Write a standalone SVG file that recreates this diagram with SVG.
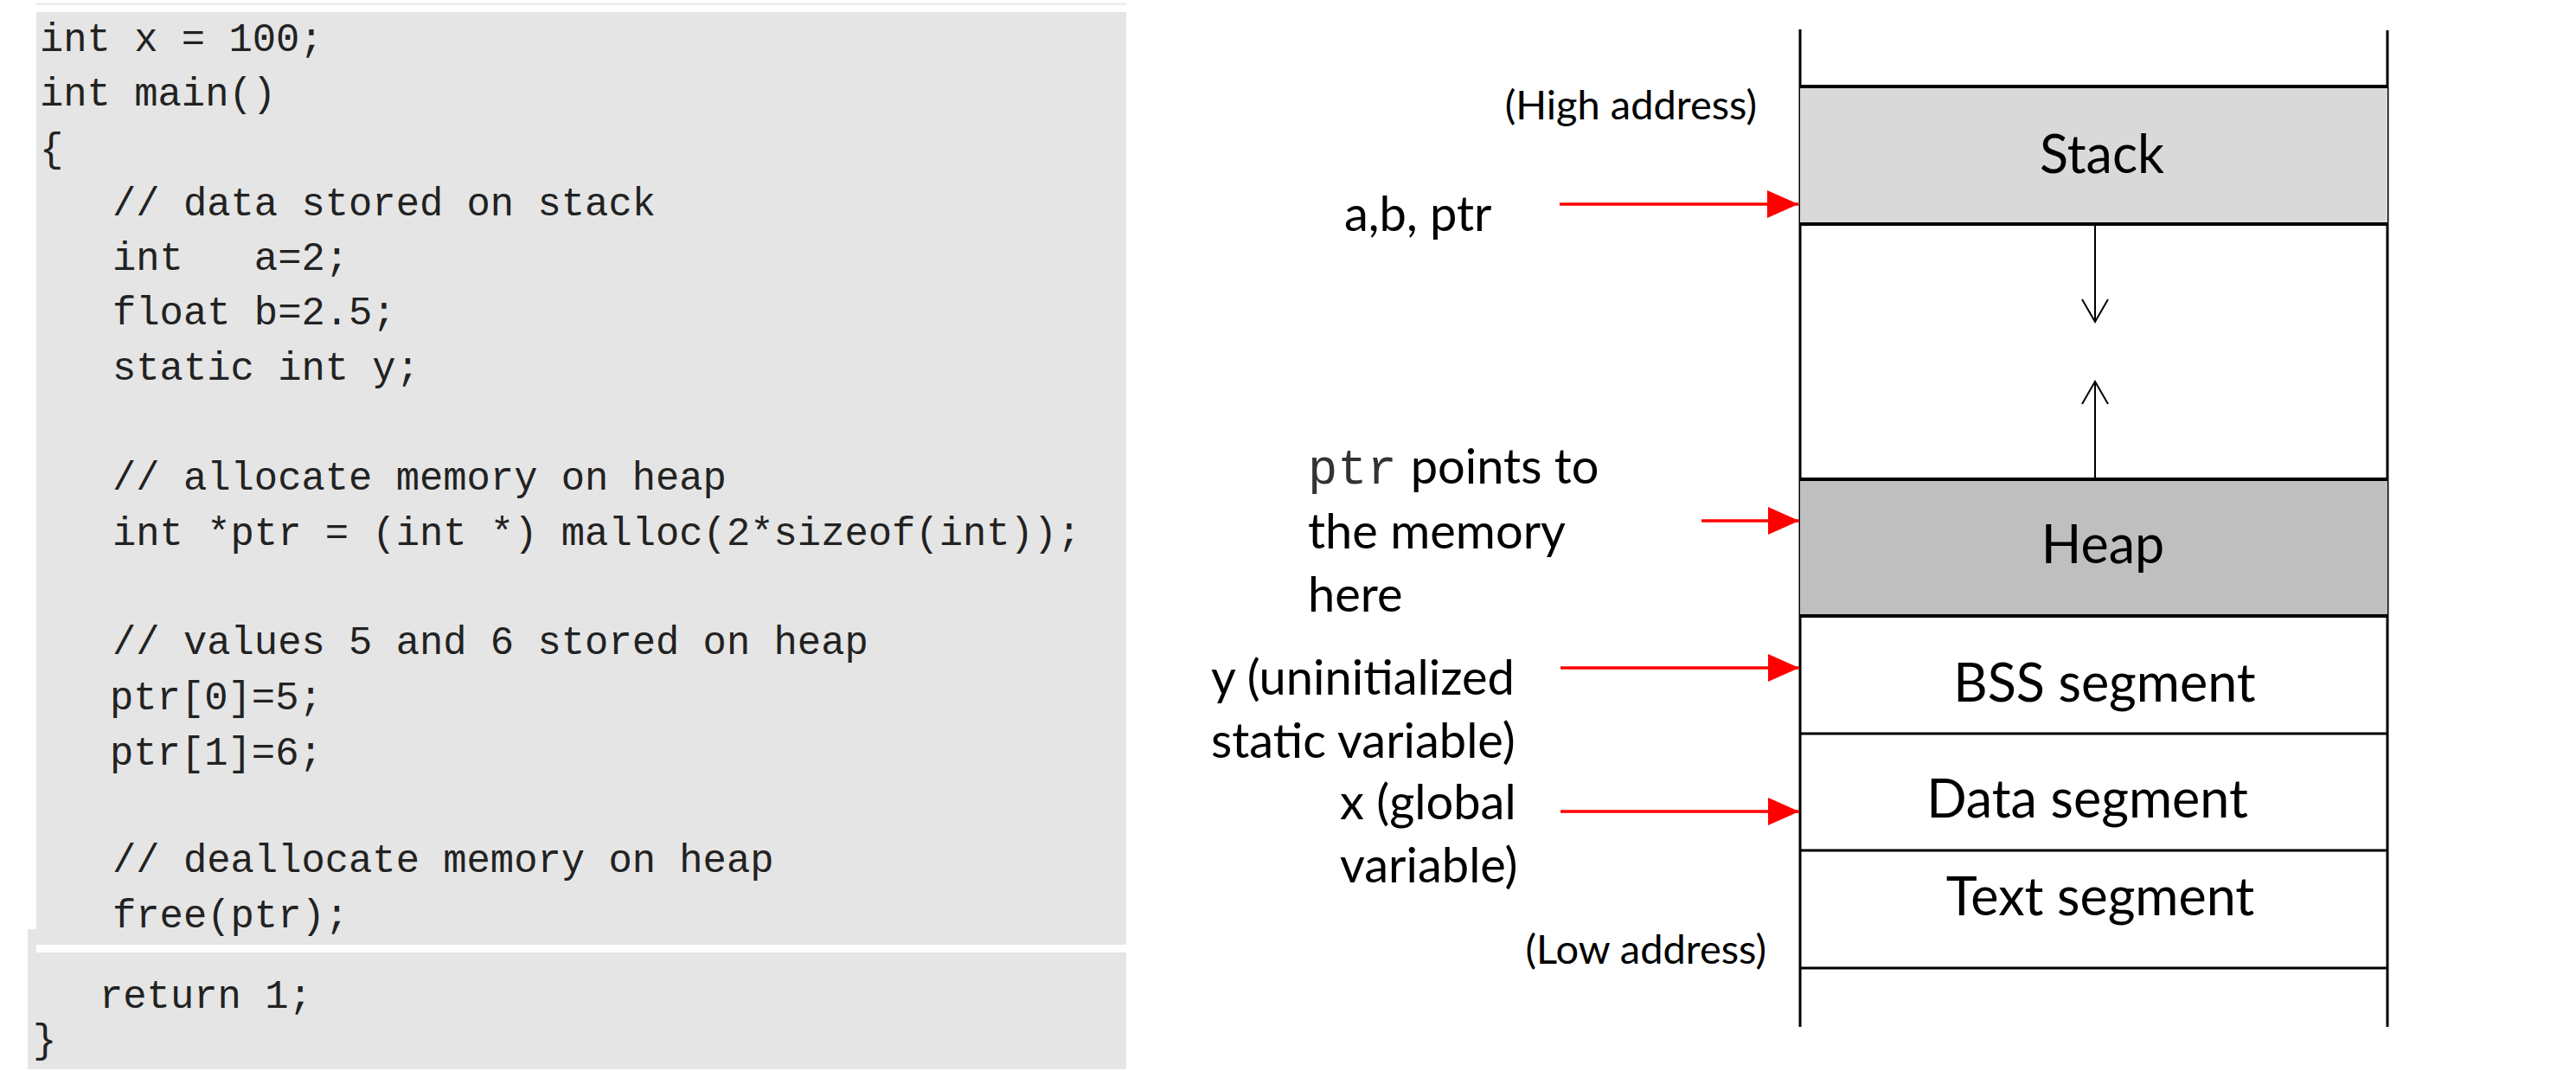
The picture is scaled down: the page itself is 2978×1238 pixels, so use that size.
<svg xmlns="http://www.w3.org/2000/svg" width="2978" height="1238" viewBox="0 0 2978 1238">
<style>
.code{font-family:"Liberation Mono","DejaVu Sans Mono",monospace;font-size:45.5px;fill:#222;white-space:pre}
.seg{font-family:Lato,"Open Sans","Liberation Sans",sans-serif;font-size:61px;fill:#000;text-anchor:middle}
.lbl{font-family:Lato,"Open Sans","Liberation Sans",sans-serif;font-size:56px;fill:#000}
.addr{font-family:Lato,"Open Sans","Liberation Sans",sans-serif;font-size:47px;fill:#000;text-anchor:end}
.mono{font-family:"Liberation Mono","DejaVu Sans Mono",monospace;font-size:57px;fill:#333}
.wall{stroke:#000;stroke-width:3;fill:none}
.bar{stroke:#000;stroke-width:4}
.thin{stroke:#000;stroke-width:3}
.red{stroke:#f00;stroke-width:3.5;fill:none}
.grow{stroke:#000;stroke-width:2;fill:none}
</style>
<defs>
<marker id="rh" viewBox="0 0 36 32" refX="36" refY="16" markerWidth="36" markerHeight="32" markerUnits="userSpaceOnUse" orient="auto">
<path d="M0,0 L36,16 L0,32 Z" fill="#f00"/>
</marker>
</defs>
<rect width="2978" height="1238" fill="#fff"/>

<g id="code-panel">
<rect x="42" y="3" width="1260" height="3" fill="#eeeeee"/>
<rect x="32" y="1074" width="1270" height="162" fill="#e5e5e5"/>
<rect x="42" y="14" width="1260" height="1078" fill="#e5e5e5"/>
<rect x="42" y="1092" width="1260" height="9" fill="#fff"/>
<text class="code" x="46" y="59">int x = 100;</text>
<text class="code" x="46" y="122">int main()</text>
<text class="code" x="46" y="186">{</text>
<text class="code" x="130" y="249">// data stored on stack</text>
<text class="code" x="130" y="312">int   a=2;</text>
<text class="code" x="130" y="375">float b=2.5;</text>
<text class="code" x="130" y="439">static int y;</text>
<text class="code" x="130" y="566">// allocate memory on heap</text>
<text class="code" x="130" y="630">int *ptr = (int *) malloc(2*sizeof(int));</text>
<text class="code" x="130" y="756">// values 5 and 6 stored on heap</text>
<text class="code" x="127" y="820">ptr[0]=5;</text>
<text class="code" x="127" y="884">ptr[1]=6;</text>
<text class="code" x="130" y="1008">// deallocate memory on heap</text>
<text class="code" x="130" y="1072">free(ptr);</text>
<text class="code" x="115" y="1165">return 1;</text>
<text class="code" x="38" y="1216">}</text>
</g>

<g id="memory-walls">
<line class="wall" x1="2081" y1="34" x2="2081" y2="1187"/>
<line class="wall" x1="2760" y1="35" x2="2760" y2="1187"/>
</g>

<g id="stack">
<rect x="2081" y="100" width="679" height="159" fill="#d9d9d9"/>
<line class="bar" x1="2081" y1="100" x2="2760" y2="100"/>
<line class="bar" x1="2081" y1="259" x2="2760" y2="259"/>
<text class="seg" x="2430" y="200">Stack</text>
</g>

<g id="heap">
<rect x="2081" y="554" width="679" height="158" fill="#bfbfbf"/>
<line class="bar" x1="2081" y1="554" x2="2760" y2="554"/>
<line class="bar" x1="2081" y1="712" x2="2760" y2="712"/>
<text class="seg" x="2431" y="651">Heap</text>
</g>

<g id="bss">
<line class="thin" x1="2081" y1="848" x2="2760" y2="848"/>
<text class="seg" x="2433" y="811">BSS segment</text>
</g>

<g id="data">
<line class="thin" x1="2081" y1="983" x2="2760" y2="983"/>
<text class="seg" x="2413" y="945">Data segment</text>
</g>

<g id="text-seg">
<line class="thin" x1="2081" y1="1119" x2="2760" y2="1119"/>
<text class="seg" x="2428" y="1058">Text segment</text>
</g>

<g id="addresses">
<text class="addr" x="2031" y="138">(High address)</text>
<text class="addr" x="2042" y="1114">(Low address)</text>
</g>

<g id="labels">
<text class="lbl" x="1554" y="267">a,b, ptr</text>
<text x="1512" y="559"><tspan class="mono">ptr</tspan><tspan class="lbl" dx="16">points to</tspan></text>
<text class="lbl" x="1512" y="634">the memory</text>
<text class="lbl" x="1512" y="707">here</text>
<text class="lbl" x="1400" y="803">y (uninitialized</text>
<text class="lbl" x="1400" y="876">static variable)</text>
<text class="lbl" x="1549" y="947">x (global</text>
<text class="lbl" x="1549" y="1020">variable)</text>
</g>

<g id="connectors">
<line class="grow" x1="2422" y1="259" x2="2422" y2="371"/>
<polyline class="grow" points="2407,346 2422,372 2437,346"/>
<line class="grow" x1="2422" y1="554" x2="2422" y2="442"/>
<polyline class="grow" points="2407,467 2422,441 2437,467"/>
<line class="red" x1="1803" y1="236" x2="2079" y2="236" marker-end="url(#rh)"/>
<line class="red" x1="1967" y1="602" x2="2080" y2="602" marker-end="url(#rh)"/>
<line class="red" x1="1804" y1="772" x2="2080" y2="772" marker-end="url(#rh)"/>
<line class="red" x1="1804" y1="938" x2="2080" y2="938" marker-end="url(#rh)"/>
</g>
</svg>
